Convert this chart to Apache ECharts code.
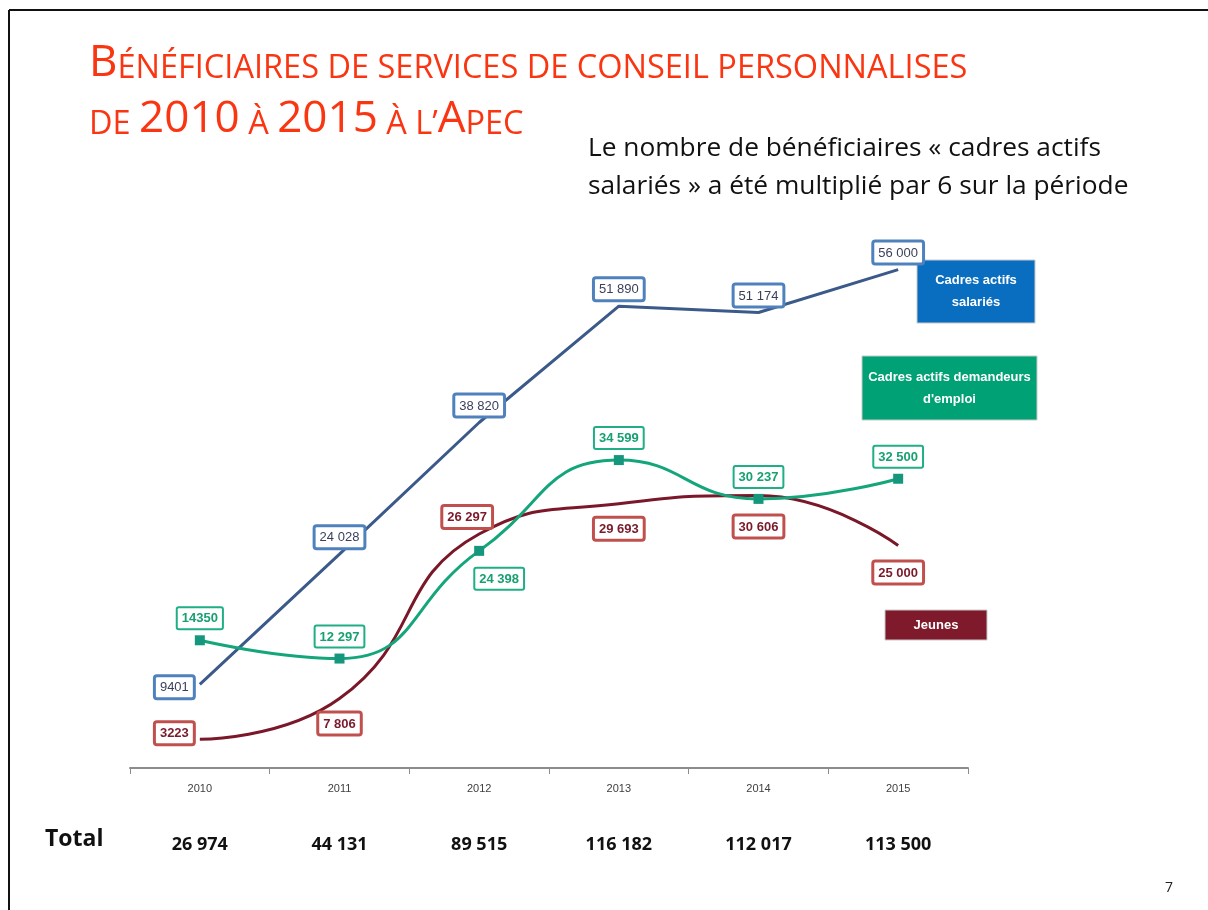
<!DOCTYPE html>
<html>
<head>
<meta charset="utf-8">
<title>Bénéficiaires de services de conseil personnalisés</title>
<script src="https://cdn.jsdelivr.net/npm/echarts@6/dist/echarts.min.js"></script>
<style>
html,body{margin:0;padding:0;background:#fff;}
#chart{width:1208px;height:910px;}
</style>
</head>
<body>
<div id="chart"></div>
<script>
var years = ['2010', '2011', '2012', '2013', '2014', '2015'];
var salaries = [9401, 24028, 38820, 51890, 51174, 56000];     // Cadres actifs salariés
var demandeurs = [14350, 12297, 24398, 34599, 30237, 32500];  // Cadres actifs demandeurs d'emploi
var jeunes = [3223, 7806, 26297, 29693, 30606, 25000];        // Jeunes
var totals = [26974, 44131, 89515, 116182, 112017, 113500];

var narrow = '"Liberation Sans Narrow", "Liberation Sans", sans-serif';
var red = '#fa3612';

// 2010 est écrit sans séparateur sur l'original
function fmt(v, i) {
  if (i === 0) return String(v);
  return String(v).replace(/\B(?=(\d{3})+(?!\d))/g, ' ');
}

// placement des étiquettes (style, pas des données)
var salPos = [['left', [0, 3]], ['top', [0, 0]], ['top', [0, 0]], ['top', [0, 0]], ['top', [0, 0]], ['top', [0, 0]]];
var demPos = [['top', [0, 0]], ['top', [0, 0]], ['bottom', [20, 6]], ['top', [0, 0]], ['top', [0, 0]], ['top', [0, 0]]];
var jeuPos = [['left', [0, -6]], ['bottom', [0, 8]], ['top', [-12, 0]], ['bottom', [0, 8]], ['bottom', [0, 14]], ['bottom', [0, 10]]];

function build(values, pos) {
  return values.map(function (v, i) {
    return {value: v, label: {position: pos[i][0], offset: pos[i][1]}};
  });
}

function boxLabel(border, color, bold, bw) {
  return {
    show: true,
    distance: 7,
    formatter: function (p) { return fmt(p.value, p.dataIndex); },
    fontFamily: narrow,
    fontSize: 13,
    fontWeight: bold ? 'bold' : 'normal',
    color: color,
    backgroundColor: '#fff',
    borderColor: border,
    borderWidth: bw,
    borderRadius: 1,
    padding: [4, 4, 3, 4]
  };
}

var titleRich = {
  b: {fontFamily: 'Open Sans', fontWeight: 'normal', fontSize: 44, lineHeight: 44, color: red, verticalAlign: 'bottom'},
  s: {fontFamily: 'Open Sans', fontWeight: 'normal', fontSize: 32.5, lineHeight: 37, color: red, verticalAlign: 'bottom'}
};

var myChart = echarts.init(document.getElementById('chart'));
myChart.setOption({
  backgroundColor: '#fff',
  animation: false,
  title: [
    {
      left: 84, top: 36,
      text: '{b|B}{s|ÉNÉFICIAIRES DE SERVICES DE CONSEIL PERSONNALISES}',
      textStyle: {rich: titleRich}
    },
    {
      left: 84, top: 92,
      text: '{s|DE }{b|2010}{s| À }{b|2015}{s| À L’}{b|A}{s|PEC}',
      textStyle: {rich: titleRich}
    }
  ],
  grid: {left: 130, right: 240, top: 234, bottom: 142},
  xAxis: {
    type: 'category',
    data: years,
    boundaryGap: true,
    axisLine: {lineStyle: {color: '#8c8c8c', width: 2}},
    axisTick: {show: true, length: 6, lineStyle: {color: '#8c8c8c'}},
    axisLabel: {
      margin: 11,
      formatter: function (val, i) {
        return '{y|' + val + '}\n{t|' + fmt(totals[i], 1) + '}';
      },
      rich: {
        y: {fontFamily: narrow, fontSize: 11, color: '#404040', lineHeight: 20},
        t: {fontFamily: 'Open Sans', fontSize: 18, fontWeight: 'bold', color: '#111', lineHeight: 92}
      }
    }
  },
  yAxis: {
    type: 'value',
    min: 0,
    max: 60000,
    show: false,
    splitLine: {show: false}
  },
  series: [
    {
      name: 'Cadres actifs salariés',
      type: 'line',
      data: build(salaries, salPos),
      symbol: 'circle',
      symbolSize: 0,
      showSymbol: true,
      lineStyle: {color: '#3b5a8a', width: 3},
      itemStyle: {color: '#3b5a8a'},
      label: boxLabel('#4f81bd', '#3a3f5c', false, 3),
      z: 3
    },
    {
      name: "Cadres actifs demandeurs d'emploi",
      type: 'line',
      data: build(demandeurs, demPos),
      smooth: 0.5,
      symbol: 'rect',
      symbolSize: 10,
      showSymbol: true,
      lineStyle: {color: '#14a67a', width: 3},
      itemStyle: {color: '#15977e'},
      label: boxLabel('#1fae85', '#17a072', true, 2),
      z: 4
    },
    {
      name: 'Jeunes',
      type: 'line',
      data: build(jeunes, jeuPos),
      smooth: 0.5,
      symbol: 'circle',
      symbolSize: 0,
      showSymbol: true,
      lineStyle: {color: '#7a1728', width: 3},
      itemStyle: {color: '#7a1728'},
      label: boxLabel('#c0504d', '#7a1a2a', true, 3),
      z: 3
    }
  ],
  graphic: [
    // cadre de la diapo
    {type: 'line', shape: {x1: 9, y1: 10, x2: 1208, y2: 10}, style: {stroke: '#111', lineWidth: 2}},
    {type: 'line', shape: {x1: 9, y1: 10, x2: 9, y2: 910}, style: {stroke: '#111', lineWidth: 2}},
    {
      type: 'text', left: 588, top: 130,
      style: {
        text: 'Le nombre de bénéficiaires « cadres actifs\nsalariés » a été multiplié par 6 sur la période',
        fontFamily: 'Open Sans', fontSize: 26.3, lineHeight: 38, fill: '#111'
      }
    },
    // encarts de légende
    {
      type: 'rect', shape: {x: 917, y: 260, width: 118, height: 63},
      style: {fill: '#0a6ec0', stroke: '#c8c8c8', lineWidth: 1},
      textContent: {style: {text: 'Cadres actifs\nsalariés', fill: '#fff', fontFamily: narrow, fontWeight: 'bold', fontSize: 13, lineHeight: 22, align: 'center'}},
      textConfig: {position: 'inside'}
    },
    {
      type: 'rect', shape: {x: 862, y: 356, width: 175, height: 64},
      style: {fill: '#00a175', stroke: '#c8c8c8', lineWidth: 1},
      textContent: {style: {text: "Cadres actifs demandeurs\nd'emploi", fill: '#fff', fontFamily: narrow, fontWeight: 'bold', fontSize: 13, lineHeight: 22, align: 'center'}},
      textConfig: {position: 'inside'}
    },
    {
      type: 'rect', shape: {x: 885, y: 610, width: 102, height: 30},
      style: {fill: '#7e1a2b', stroke: '#c8c8c8', lineWidth: 1},
      textContent: {style: {text: 'Jeunes', fill: '#fff', fontFamily: narrow, fontWeight: 'bold', fontSize: 13, align: 'center'}},
      textConfig: {position: 'inside'}
    },
    {
      type: 'text', left: 45, top: 828,
      style: {text: 'Total', fontFamily: 'Open Sans', fontWeight: 'bold', fontSize: 23, fill: '#111'}
    },
    {
      type: 'text', left: 1165, top: 881,
      style: {text: '7', fontFamily: 'Open Sans', fontSize: 14, fill: '#222'}
    }
  ]
});
</script>
</body>
</html>
